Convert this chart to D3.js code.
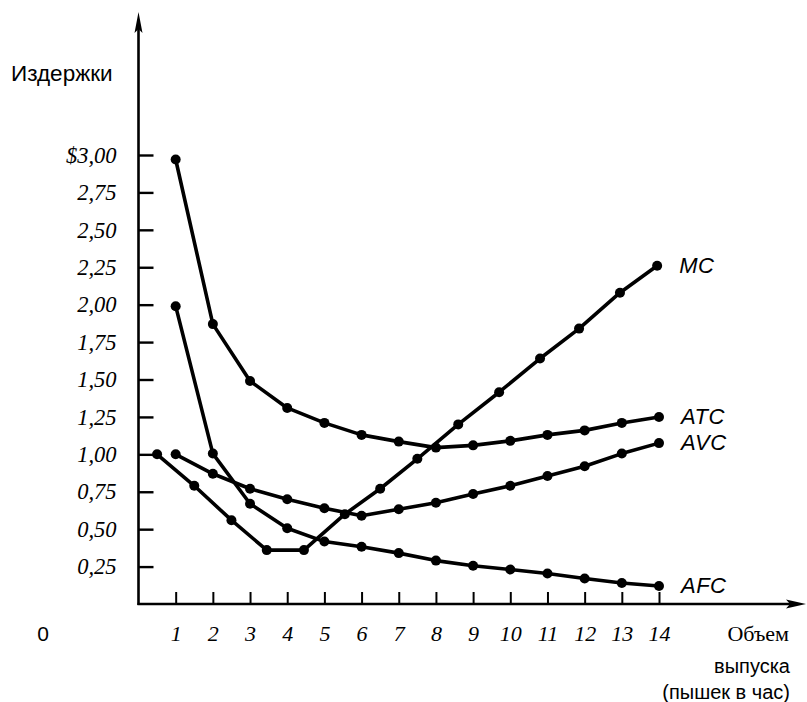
<!DOCTYPE html>
<html>
<head>
<meta charset="utf-8">
<script src="https://cdn.jsdelivr.net/npm/d3@7"></script>
<style>
  html, body { margin: 0; padding: 0; background: #fff; }
  svg { display: block; }
</style>
</head>
<body>
<svg id="chart" width="807" height="702"></svg>
<script>
// ---- data ----
const quantities = [1, 2, 3, 4, 5, 6, 7, 8, 9, 10, 11, 12, 13, 14];
const atc = [2.97, 1.87, 1.49, 1.31, 1.21, 1.13, 1.085, 1.045, 1.06, 1.09, 1.13, 1.16, 1.21, 1.25];
const avc = [1.00, 0.87, 0.77, 0.70, 0.64, 0.59, 0.633, 0.677, 0.735, 0.79, 0.855, 0.92, 1.005, 1.075];
const afc = [1.99, 1.005, 0.67, 0.506, 0.417, 0.383, 0.34, 0.29, 0.256, 0.23, 0.204, 0.17, 0.14, 0.12];
const mcQuantities = [0.5, 1.5, 2.5, 3.45, 4.45, 5.55, 6.5, 7.5, 8.6, 9.7, 10.8, 11.85, 12.95, 13.95];
const mc = [1.00, 0.79, 0.56, 0.36, 0.36, 0.60, 0.77, 0.97, 1.20, 1.415, 1.64, 1.84, 2.08, 2.26];

const yTickValues = [0.25, 0.5, 0.75, 1.0, 1.25, 1.5, 1.75, 2.0, 2.25, 2.5, 2.75, 3.0];
const yTickLabels = ["0,25", "0,50", "0,75", "1,00", "1,25", "1,50", "1,75", "2,00", "2,25", "2,50", "2,75", "$3,00"];
const xTickValues = quantities;
const xTickLabels = ["1", "2", "3", "4", "5", "6", "7", "8", "9", "10", "11", "12", "13", "14"];

const seriesNames = ["MC", "ATC", "AVC", "AFC"];

// ---- drawing ----
const svg = d3.select("#chart");
const x = d3.scaleLinear().domain([0, 14]).range([138.5, 659]);
const y = d3.scaleLinear().domain([0, 3]).range([604, 155]);

const serif = "'Liberation Serif', 'Times New Roman', serif";
const sans = "'Liberation Sans', Arial, sans-serif";

// axes lines with arrows
const x0 = x(0), y0 = y(0);
svg.append("line").attr("x1", x0).attr("y1", y0 + 1).attr("x2", x0).attr("y2", 24)
  .attr("stroke", "#000").attr("stroke-width", 2.6);
svg.append("path").attr("d", `M${x0},12 L${x0 - 4},33 L${x0},29 L${x0 + 4},33 Z`).attr("fill", "#000");
svg.append("line").attr("x1", x0 - 1).attr("y1", y0).attr("x2", 795).attr("y2", y0)
  .attr("stroke", "#000").attr("stroke-width", 2.6);
svg.append("path").attr("d", `M806,${y0} L786,${y0 - 4.5} L790,${y0} L786,${y0 + 4.5} Z`).attr("fill", "#000");

// y axis ticks & labels
const yAxis = d3.axisLeft(y)
  .tickValues(yTickValues)
  .tickSize(-15)
  .tickPadding(22)
  .tickFormat((d, i) => yTickLabels[i]);
const gy = svg.append("g").attr("transform", `translate(${x0},0)`).call(yAxis);
gy.select(".domain").remove();
gy.selectAll(".tick line").attr("stroke", "#000").attr("stroke-width", 2.4);
gy.selectAll(".tick text")
  .attr("fill", "#000")
  .style("font-family", serif)
  .style("font-style", "italic")
  .style("font-size", "22.5px");

// x axis ticks & labels
const xAxis = d3.axisBottom(x)
  .tickValues(xTickValues)
  .tickSize(-12)
  .tickPadding(21)
  .tickFormat((d, i) => xTickLabels[i]);
const gx = svg.append("g").attr("transform", `translate(0,${y0})`).call(xAxis);
gx.select(".domain").remove();
gx.selectAll(".tick line").attr("stroke", "#000").attr("stroke-width", 2);
gx.selectAll(".tick text")
  .attr("fill", "#000")
  .style("font-family", serif)
  .style("font-style", "italic")
  .style("font-size", "22px");

// origin label
svg.append("text").attr("x", 43).attr("y", 641).attr("text-anchor", "middle")
  .style("font-family", sans).style("font-size", "21px").text("0");

// axis titles
svg.append("text").attr("x", 11).attr("y", 81)
  .style("font-family", sans).style("font-size", "22.5px").text("Издержки");
svg.append("text").attr("x", 789).attr("y", 641).attr("text-anchor", "end")
  .style("font-family", serif).style("font-size", "22px").text("Объем");
svg.append("text").attr("x", 790).attr("y", 673).attr("text-anchor", "end")
  .style("font-family", sans).style("font-size", "20px").text("выпуска");
svg.append("text").attr("x", 790).attr("y", 699).attr("text-anchor", "end")
  .style("font-family", sans).style("font-size", "20px").text("(пышек в час)");

// series
const series = [
  { name: seriesNames[0], q: mcQuantities, v: mc },
  { name: seriesNames[1], q: quantities, v: atc },
  { name: seriesNames[2], q: quantities, v: avc },
  { name: seriesNames[3], q: quantities, v: afc }
];

const line = d3.line().x(d => x(d[0])).y(d => y(d[1]));

series.forEach(s => {
  const pts = s.q.map((q, i) => [q, s.v[i]]);
  svg.append("path").datum(pts)
    .attr("d", line)
    .attr("fill", "none")
    .attr("stroke", "#000")
    .attr("stroke-width", 3.6)
    .attr("stroke-linejoin", "round");
  svg.append("g").selectAll("circle").data(pts).join("circle")
    .attr("cx", d => x(d[0]))
    .attr("cy", d => y(d[1]))
    .attr("r", 5)
    .attr("fill", "#000");
  const last = pts[pts.length - 1];
  svg.append("text")
    .attr("x", x(last[0]) + 22)
    .attr("y", y(last[1]) + 7)
    .style("font-family", sans)
    .style("font-style", "italic")
    .style("font-size", "22px")
    .style("letter-spacing", "0.5px")
    .text(s.name);
});
</script>
</body>
</html>
